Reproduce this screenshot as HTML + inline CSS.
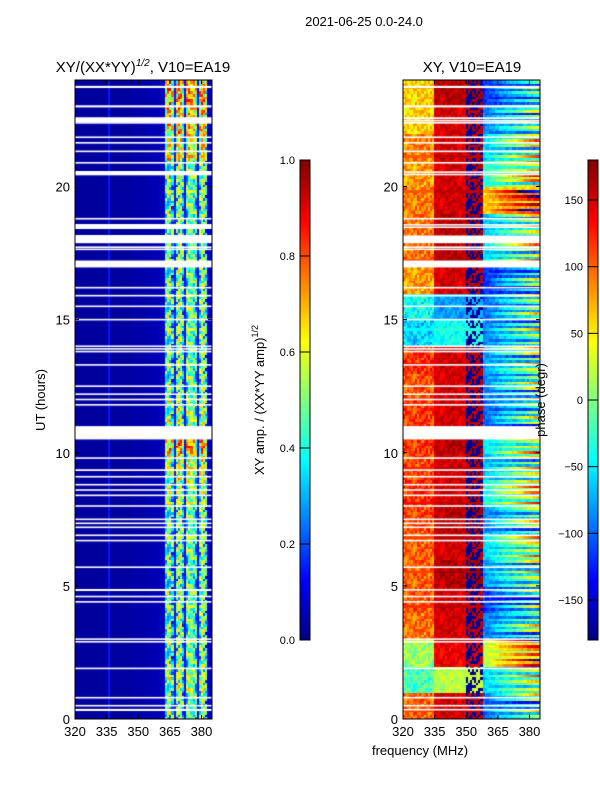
<!DOCTYPE html>
<html><head><meta charset="utf-8">
<style>
body{margin:0;background:#fff;width:600px;height:800px;overflow:hidden;font-family:"Liberation Sans",sans-serif;}
#root{position:relative;width:600px;height:800px;}
svg text{font-family:"Liberation Sans",sans-serif;}
canvas{position:absolute;}
</style></head>
<body><div id="root">
<canvas id="ampc" width="137" height="639" style="left:75px;top:80px"></canvas>
<canvas id="phc" width="137" height="639" style="left:403px;top:80px"></canvas>
<canvas id="cb1" width="10" height="480" style="left:300px;top:160px"></canvas>
<canvas id="cb2" width="10" height="480" style="left:588px;top:160px"></canvas>
<svg id="ov" width="600" height="800" style="position:absolute;left:0;top:0"></svg>
</div>
<script>
// ---- data ----
const freqMin = 320, freqMax = 385;
const hourMin = 0, hourMax = 24;
const xTicks = [320, 335, 350, 365, 380];
const yTicks = [0, 5, 10, 15, 20];
const ampTicks = [0.0, 0.2, 0.4, 0.6, 0.8, 1.0];
const phaseTicks = [-150, -100, -50, 0, 50, 100, 150];
// flagged (white) time ranges, hours
const gaps = [[23.7,23.78],[22.97,23.05],[22.53,22.6],[22.44,22.5],[22.36,22.42],[21.82,21.88],[21.61,21.67],[21.29,21.35],[20.86,20.92],[20.51,20.57],[20.42,20.48],[18.76,18.82],[18.53,18.59],[18.44,18.5],[17.87,18.16],[17.69,17.75],[17.61,17.67],[16.96,17.22],[16.17,16.23],[15.87,15.93],[15.47,15.53],[14.97,15.03],[13.97,14.03],[13.87,13.93],[13.77,13.83],[13.27,13.33],[12.47,12.53],[12.17,12.23],[11.97,12.03],[11.77,11.83],[10.5,11.0],[9.77,9.83],[9.32,9.38],[9.07,9.13],[8.77,8.83],[8.57,8.63],[8.37,8.43],[7.97,8.03],[7.47,7.53],[7.32,7.38],[7.17,7.23],[6.87,6.93],[6.67,6.73],[5.67,5.73],[4.82,4.88],[4.57,4.63],[4.37,4.43],[2.97,3.03],[2.87,2.93],[1.87,1.93],[0.77,0.83],[0.47,0.53],[0.32,0.38]];
// amplitude band profile (1 MHz bins 320..384)
const ampProfile = [0.03,0.03,0.03,0.03,0.03,0.03,0.03,0.03,0.03,0.03,0.03,0.03,0.03,0.03,0.03,0.03,0.15,0.03,0.03,0.03,0.03,0.03,0.03,0.03,0.03,0.03,0.03,0.04,0.04,0.04,0.04,0.04,0.04,0.04,0.05,0.05,0.05,0.05,0.05,0.05,0.06,0.06,0.08,0.42,0.48,0.45,0.38,0.15,0.42,0.48,0.45,0.38,0.14,0.45,0.5,0.5,0.45,0.4,0.14,0.42,0.48,0.45,0.36,0.08,0.06];
// per-hour band brightness multiplier
const ampHour = [1.0,1.1,1.0,1.0,1.0,0.95,1.0,1.0,1.1,1.2,1.5,1.1,1.0,1.0,1.0,1.0,1.0,1.0,1.0,1.0,1.0,1.3,1.4,1.5];
// per-hour phase (degrees) for low, mid and high frequency regions
const phaseLow  = [100,-20,10,95,105,100,100,110,120,110,115,115,105,120,-60,-40,80,95,95,90,80,90,60,60];
const phaseMid  = [150,20,140,150,150,160,150,160,150,150,160,150,150,150,-40,-80,150,160,160,150,150,150,150,160];
const phaseHigh = [-100,-60,20,-90,-120,-80,-60,-90,-40,-70,-50,-100,-90,-80,-90,-100,-120,-60,-70,60,-30,-60,-90,-120];
const texture = [0,14,-10,22,-18,6,-28,16,-4,25,-12,9,-20];

// ---- helpers ----
function jet(v){v=Math.max(0,Math.min(1,v));
 const r=Math.max(0,Math.min(1,1.5-Math.abs(4*v-3))),g=Math.max(0,Math.min(1,1.5-Math.abs(4*v-2))),b=Math.max(0,Math.min(1,1.5-Math.abs(4*v-1)));
 return 'rgb('+Math.round(r*255)+','+Math.round(g*255)+','+Math.round(b*255)+')';}
const W=137,H=639;
function xs(f){return (f-freqMin)/(freqMax-freqMin)*W;}
function ys(h){return H-(h-hourMin)/(hourMax-hourMin)*H;}
function isGap(h){return gaps.some(g=>h>=g[0]&&h<g[1]);}
function tex(i,j){return texture[(i*i*3+j*5+i*j*7)%13];}
const dt=0.1;
// amplitude heatmap
(function(){const c=document.getElementById('ampc').getContext('2d');
 c.fillStyle='#fff';c.fillRect(0,0,W,H);
 for(let i=0;i<240;i++){const h=i*dt;if(isGap(h+dt/2))continue;const hi=Math.floor(h);
  for(let j=0;j<ampProfile.length;j++){let v=ampProfile[j];
   if(v>0.2){v=v*ampHour[hi]+tex(i,j)/120;}
   c.fillStyle=jet(v);const x0=xs(freqMin+j),x1=xs(freqMin+j+1);
   c.fillRect(Math.floor(x0),ys(h+dt)|0,Math.ceil(x1-x0)+1,Math.ceil(ys(h)-ys(h+dt))+1);}}
 gaps.forEach(g=>{c.fillStyle='#fff';c.fillRect(0,ys(g[1]),W,Math.max(1.5,ys(g[0])-ys(g[1])));});
})();
// phase heatmap
function wrap(p){while(p>180)p-=360;while(p<-180)p+=360;return p;}
(function(){const c=document.getElementById('phc').getContext('2d');
 c.fillStyle='#fff';c.fillRect(0,0,W,H);
 for(let i=0;i<240;i++){const h=i*dt;const hi=Math.floor(h);
  for(let j=0;j<65;j++){const f=freqMin+j;const t=tex(i,j);let p;
   if(f<335)p=phaseLow[hi]+t;
   else if(f<350)p=phaseMid[hi]+t*0.6;
   else if(f<358)p=(t>5)?phaseMid[hi]+t*0.5:-165+t*0.5;
   else p=phaseHigh[hi]+(f-358)*(3+texture[i%13]/6)+t*0.5;
   c.fillStyle=jet((wrap(p)+180)/360);const x0=xs(f),x1=xs(f+1);
   c.fillRect(Math.floor(x0),ys(h+dt)|0,Math.ceil(x1-x0)+1,Math.ceil(ys(h)-ys(h+dt))+1);}}
 gaps.forEach(g=>{c.fillStyle='#fff';c.fillRect(0,ys(g[1]),W,Math.max(1.5,ys(g[0])-ys(g[1])));});
})();
// colorbars
['cb1','cb2'].forEach(id=>{const c=document.getElementById(id).getContext('2d');for(let y=0;y<480;y++){c.fillStyle=jet(1-y/480);c.fillRect(0,y,10,1);}});
// overlay
const NS='http://www.w3.org/2000/svg';const ov=document.getElementById('ov');
function el(t,a,txt){const e=document.createElementNS(NS,t);for(const k in a)e.setAttribute(k,a[k]);if(txt!==undefined)e.textContent=txt;ov.appendChild(e);return e;}
[[75,'left'],[403,'right']].forEach(([L,nm])=>{
 const fr=el('rect',{x:L,y:80,width:W,height:H,fill:'none',stroke:'#000','stroke-width':1});
 
 
 xTicks.forEach(v=>{const x=L+xs(v);el('line',{x1:x,x2:x,y1:719,y2:715,stroke:'#000'});el('line',{x1:x,x2:x,y1:80,y2:84,stroke:'#000'});
  const t=el('text',{x:x,y:736,'font-size':13,'text-anchor':'middle'},v);
  
  });
 yTicks.forEach(v=>{const y=80+ys(v);el('line',{x1:L,x2:L+4,y1:y,y2:y,stroke:'#000'});el('line',{x1:L+W,x2:L+W-4,y1:y,y2:y,stroke:'#000'});
  const t=el('text',{x:L-5,y:y+5,'font-size':13,'text-anchor':'end'},v);
  
  });
});
el('rect',{x:300,y:160,width:10,height:480,fill:'none',stroke:'#000'});
el('rect',{x:588,y:160,width:10,height:480,fill:'none',stroke:'#000'});
ampTicks.forEach(v=>{const y=640-v*480;el('line',{x1:300,x2:310,y1:y,y2:y,stroke:'#000'});
 const t=el('text',{x:295,y:y+4,'font-size':11,'text-anchor':'end'},v.toFixed(1));
 
 });
phaseTicks.forEach(v=>{const y=400-v*480/360;el('line',{x1:588,x2:598,y1:y,y2:y,stroke:'#000'});
 const t=el('text',{x:583,y:y+4,'font-size':11,'text-anchor':'end'},v<0?'\u2212'+(-v):v);
 
 });
function lbl(name,attrs,txt){const t=el('text',attrs,txt);return t;}
lbl('figure-title',{x:364,y:26,'font-size':13,'text-anchor':'middle'},'2021-06-25 0.0-24.0');
const lt=lbl('left-title',{x:143,y:72,'font-size':15,'text-anchor':'middle'},'XY/(XX*YY)');
const sup=document.createElementNS(NS,'tspan');sup.setAttribute('dy','-6');sup.setAttribute('font-size','10');sup.setAttribute('font-style','italic');sup.textContent='1/2';lt.appendChild(sup);
const rest=document.createElementNS(NS,'tspan');rest.setAttribute('dy','6');rest.textContent=', V10=EA19';lt.appendChild(rest);
lbl('right-title',{x:472,y:72,'font-size':15,'text-anchor':'middle'},'XY, V10=EA19');
lbl('y-axis-title',{x:0,y:0,'font-size':13,'text-anchor':'middle',transform:'translate(45,400) rotate(-90)'},'UT (hours)');
lbl('x-axis-title',{x:420,y:755,'font-size':13,'text-anchor':'middle'},'frequency (MHz)');
const al=lbl('amp-colorbar-label',{x:0,y:0,'font-size':13,'text-anchor':'middle',transform:'translate(264,400) rotate(-90)'},'XY amp. / (XX*YY amp)');
const s2=document.createElementNS(NS,'tspan');s2.setAttribute('dy','-6');s2.setAttribute('font-size','9');s2.textContent='1/2';al.appendChild(s2);
lbl('phase-colorbar-label',{x:0,y:0,'font-size':13,'text-anchor':'middle',transform:'translate(545,400) rotate(-90)'},'phase (degr)');
</script>
</body></html>
